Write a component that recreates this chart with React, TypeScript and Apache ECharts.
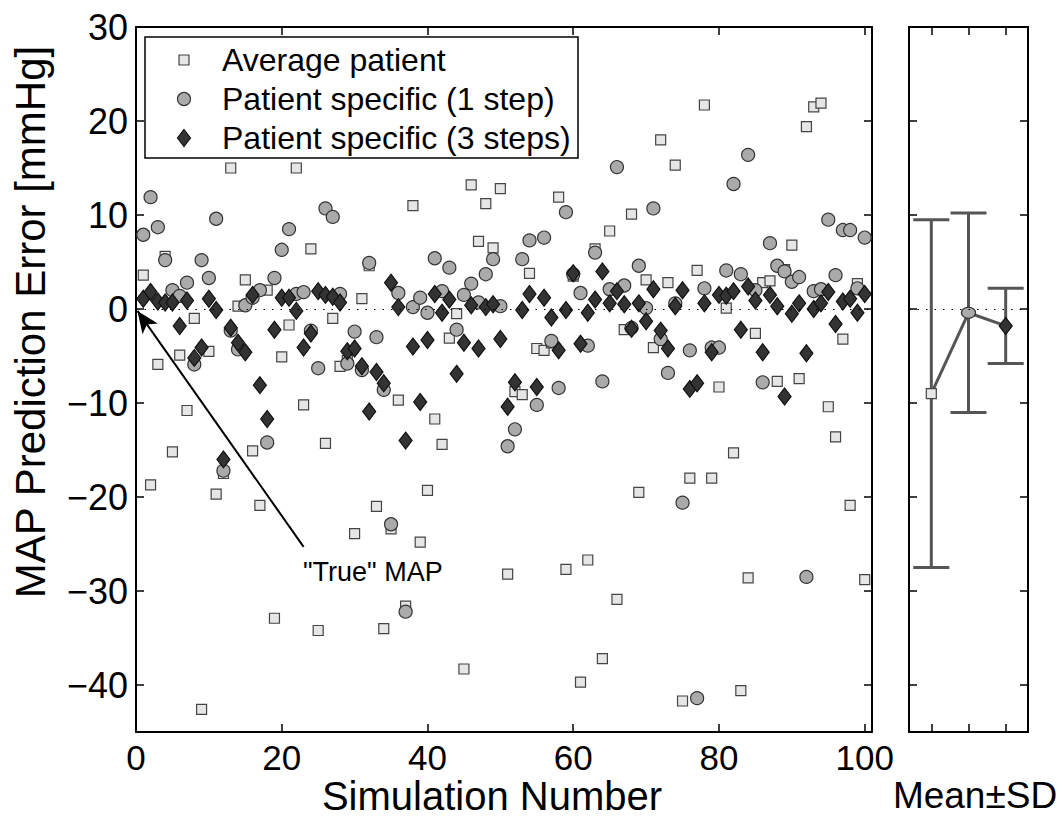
import React, { useEffect, useRef } from 'react';
import * as echarts from 'echarts';

const simulationNumbers = Array.from({ length: 100 }, (_, i) => i + 1);

const averagePatient = [
  3.6, -18.7, -5.9, 5.6, -15.2, -4.9, -10.8, -1.0, -42.6, -4.5,
  -19.7, -17.5, 15.0, 0.3, 3.1, -15.1, -20.9, 2.0, -32.9, -5.1,
  -1.7, 15.0, -10.2, 6.4, -34.2, -14.3, -1.0, -6.1, -5.5, -23.9,
  1.1, 4.6, -21.0, -34.0, -23.4, -9.7, -31.6, 11.0, -24.8, -19.3,
  -11.7, -14.4, -3.1, -0.5, -38.3, 13.2, 7.2, 11.2, 6.5, 12.8,
  -28.2, -8.8, -9.1, 3.8, -4.2, -4.4, -3.6, 11.9, -27.7, 3.5,
  -39.7, -26.7, 6.4, -37.2, 8.3, -30.9, -2.2, 10.1, -19.5, 3.1,
  -4.1, 18.0, 2.8, 15.3, -41.7, -18.0, 4.1, 21.7, -18.0, -8.3,
  0.1, -15.3, -40.6, -28.6, -2.6, 2.8, 3.0, -7.7, 4.2, 6.8,
  -7.4, 19.4, 21.5, 21.9, -10.4, -13.6, -3.2, -20.9, 2.7, -28.8,
];

const patientSpecific1 = [
  7.9, 11.9, 8.7, 5.2, 2.0, 1.4, 2.8, -5.9, 5.2, 3.3,
  9.6, -17.2, -2.3, -4.3, 0.4, 1.2, 2.0, -14.2, 3.3, 6.3,
  8.5, 1.6, 1.8, -2.3, -6.3, 10.7, 9.8, 1.6, -5.8, -2.4,
  -6.5, 4.9, -3.0, -8.6, -22.9, 1.7, -32.2, 0.2, 1.2, -0.4,
  5.4, 1.9, 4.4, -2.2, 1.5, 2.7, 0.7, 3.7, 5.3, 0.3,
  -14.6, -12.8, 5.3, 7.3, -10.2, 7.6, -3.4, -8.4, 10.3, 3.7,
  1.7, -3.9, 6.0, -7.7, 2.1, 15.1, 2.5, -2.0, 4.6, 0.1,
  10.7, -3.2, -6.8, 0.6, -20.6, -4.4, -41.4, 2.2, -4.1, -4.1,
  4.1, 13.3, 3.7, 16.4, 2.0, -7.8, 7.0, 4.6, 4.0, 2.9,
  3.4, -28.5, 1.9, 2.1, 9.5, 3.6, 8.4, 8.4, 2.2, 7.6,
];

const patientSpecific3 = [
  1.1, 1.8, 0.8, 0.7, 0.7, -1.8, 0.9, -5.2, -4.1, 1.1,
  -0.1, -16.0, -2.0, -3.6, -4.6, 1.5, -8.1, -11.7, -2.2, 1.2,
  1.2, -0.2, -4.1, -2.6, 1.9, 1.5, 1.3, 0.7, -4.5, -4.2,
  -6.1, -10.9, -6.7, -7.9, 2.8, 0.2, -14.0, -4.0, -9.9, -3.3,
  1.6, -0.4, 1.0, -6.9, -3.6, 0.4, -4.2, 0.2, 0.5, -3.2,
  -10.4, -7.8, -0.1, 1.6, -8.3, 1.2, -0.9, -4.4, -0.1, 3.8,
  -3.7, -0.4, 1.0, 4.0, 0.6, 1.9, 0.5, -2.1, 0.6, -1.3,
  2.1, -2.3, -4.2, 0.3, 2.0, -8.5, -7.9, 0.6, -4.6, 1.5,
  1.4, 1.9, -2.2, 2.4, 0.9, -4.6, 1.5, 0.3, -9.3, -0.5,
  0.6, -4.7, 0.0, 0.6, 1.8, -1.6, 0.8, 1.1, -0.4, 1.6,
];

const seriesNames = ['Average patient', 'Patient specific (1 step)', 'Patient specific (3 steps)'];
const summaryPositions = [1, 2, 3];
const summaryMeans = [-9.0, -0.4, -1.8];
const summarySD = [18.5, 10.6, 4.0];

const xTicks = [0, 20, 40, 60, 80, 100];
const yTicks = [-40, -30, -20, -10, 0, 10, 20, 30];
const summaryTicks = [1, 2, 3];

const FONT = "'Liberation Sans', Arial, Helvetica, sans-serif";

const fills = ['#e6e6e6', '#aaaaaa', '#333333'];
const borders = ['#444444', '#333333', '#111111'];
const symbols = ['rect', 'circle', 'diamond'];
const sizes: any[] = [10, 13, [13, 17]];

function legendMarker(k: number, cx: number, cy: number): any {
  const style = { fill: fills[k], stroke: borders[k], lineWidth: 1.2 };
  if (k === 0) return { type: 'rect', shape: { x: cx - 5, y: cy - 5, width: 10, height: 10 }, style };
  if (k === 1) return { type: 'circle', shape: { cx, cy, r: 6.5 }, style };
  return {
    type: 'polygon',
    shape: { points: [[cx, cy - 8.5], [cx + 6.5, cy], [cx, cy + 8.5], [cx - 6.5, cy]] },
    style,
  };
}

export default function App() {
  const ref = useRef<HTMLDivElement>(null);
  useEffect(() => {
    if (!ref.current) return;
    const chart = echarts.init(ref.current, undefined, { renderer: 'svg' });

    const axisLine = { show: true, onZero: false, lineStyle: { color: '#000', width: 2 } };
    const tick = (vals: number[]) => ({
      show: true, inside: true, length: 8, customValues: vals,
      lineStyle: { color: '#000', width: 1.5 },
    });
    const fmt = (v: number) => (v < 0 ? '\u2212' + Math.abs(v) : String(v));

    const seriesData = [averagePatient, patientSpecific1, patientSpecific3];

    const scatterSeries: any[] = seriesData.map((vals, k) => ({
      name: seriesNames[k],
      type: 'scatter',
      xAxisIndex: 0,
      yAxisIndex: 0,
      symbol: symbols[k],
      symbolSize: sizes[k],
      itemStyle: { color: fills[k], borderColor: borders[k], borderWidth: 1.2, opacity: 1 },
      data: simulationNumbers.map((x, i) => [x, vals[i]]),
    }));

    scatterSeries[0].markLine = {
      silent: true,
      symbol: ['none', 'none'],
      label: { show: false },
      lineStyle: { color: '#000', type: [1.5, 7], width: 1 },
      data: [{ yAxis: 0 }],
    };
    scatterSeries[2].markLine = {
      silent: true,
      label: { show: false },
      symbolSize: [14, 22],
      lineStyle: { color: '#000', type: 'solid', width: 2 },
      data: [[
        { coord: [0.2, -0.2], symbol: 'arrow' },
        { coord: [23, -25.3], symbol: 'none' },
      ]],
    };

    const legendTop = 37;
    const legendRowY = [60, 99, 138];
    const legendGraphics: any[] = [
      {
        type: 'rect', z: 100,
        shape: { x: 145, y: legendTop, width: 433, height: 121 },
        style: { fill: '#fff', stroke: '#000', lineWidth: 1.5 },
      },
    ];
    seriesNames.forEach((n, k) => {
      legendGraphics.push({ ...legendMarker(k, 184, legendRowY[k]), z: 101 });
      legendGraphics.push({
        type: 'text', z: 101, x: 222, y: legendRowY[k],
        style: { text: n, fontSize: 32, fontFamily: FONT, fill: '#000', align: 'left', verticalAlign: 'middle' },
      });
    });

    const option: any = {
      animation: false,
      backgroundColor: '#fff',
      textStyle: { fontFamily: FONT },
      grid: [
        { left: 136, top: 27, width: 736, height: 705 },
        { left: 909, top: 27, width: 119, height: 705 },
      ],
      xAxis: [
        {
          gridIndex: 0, type: 'value', min: 0, max: 101, position: 'bottom',
          axisLine, axisTick: tick(xTicks), splitLine: { show: false },
          axisLabel: { customValues: xTicks, fontSize: 35, color: '#000', fontFamily: FONT, margin: 8 },
        },
        {
          gridIndex: 0, type: 'value', min: 0, max: 101, position: 'top',
          axisLine, axisTick: tick(xTicks), splitLine: { show: false },
          axisLabel: { show: false },
        },
        {
          gridIndex: 1, type: 'value', min: 0.4, max: 3.6, position: 'bottom',
          axisLine, axisTick: tick(summaryTicks), splitLine: { show: false },
          axisLabel: { show: false },
        },
        {
          gridIndex: 1, type: 'value', min: 0.4, max: 3.6, position: 'top',
          axisLine, axisTick: tick(summaryTicks), splitLine: { show: false },
          axisLabel: { show: false },
        },
      ],
      yAxis: [
        {
          gridIndex: 0, type: 'value', min: -45, max: 30, position: 'left',
          axisLine, axisTick: tick(yTicks), splitLine: { show: false },
          axisLabel: { customValues: yTicks, fontSize: 36, color: '#000', fontFamily: FONT, margin: 8, formatter: fmt },
        },
        {
          gridIndex: 0, type: 'value', min: -45, max: 30, position: 'right',
          axisLine, axisTick: tick(yTicks), splitLine: { show: false },
          axisLabel: { show: false },
        },
        {
          gridIndex: 1, type: 'value', min: -45, max: 30, position: 'left',
          axisLine, axisTick: tick(yTicks), splitLine: { show: false },
          axisLabel: { show: false },
        },
        {
          gridIndex: 1, type: 'value', min: -45, max: 30, position: 'right',
          axisLine, axisTick: tick(yTicks), splitLine: { show: false },
          axisLabel: { show: false },
        },
      ],
      series: [
        ...scatterSeries,
        {
          name: 'sd',
          type: 'custom',
          xAxisIndex: 2,
          yAxisIndex: 2,
          data: summaryPositions.map((x, i) => [x, summaryMeans[i] - summarySD[i], summaryMeans[i] + summarySD[i]]),
          encode: { x: 0, y: [1, 2] },
          renderItem: (params: any, api: any) => {
            const x = api.value(0);
            const lo = api.coord([x, api.value(1)]);
            const hi = api.coord([x, api.value(2)]);
            const hw = 18;
            const style = { stroke: '#555', lineWidth: 3, fill: 'none' };
            return {
              type: 'group',
              children: [
                { type: 'line', shape: { x1: hi[0], y1: hi[1], x2: lo[0], y2: lo[1] }, style },
                { type: 'line', shape: { x1: hi[0] - hw, y1: hi[1], x2: hi[0] + hw, y2: hi[1] }, style },
                { type: 'line', shape: { x1: lo[0] - hw, y1: lo[1], x2: lo[0] + hw, y2: lo[1] }, style },
              ],
            };
          },
          z: 2,
        },
        {
          name: 'means',
          type: 'line',
          xAxisIndex: 2,
          yAxisIndex: 2,
          lineStyle: { color: '#555', width: 3 },
          z: 3,
          data: summaryPositions.map((x, i) => ({
            value: [x, summaryMeans[i]],
            symbol: symbols[i],
            symbolSize: i === 1 ? [14, 11] : sizes[i],
            itemStyle: { color: fills[i], borderColor: borders[i], borderWidth: 1.2 },
          })),
          markLine: {
            silent: true,
            symbol: ['none', 'none'],
            label: { show: false },
            lineStyle: { color: '#000', type: [1.5, 7], width: 1 },
            data: [{ yAxis: 0 }],
          },
        },
      ],
      graphic: [
        ...legendGraphics,
        {
          type: 'text', x: 30, y: 322, rotation: Math.PI / 2,
          style: { text: 'MAP Prediction Error [mmHg]', fontSize: 42, fontFamily: FONT, fill: '#000', align: 'center', verticalAlign: 'middle' },
        },
        {
          type: 'text', x: 492, y: 796,
          style: { text: 'Simulation Number', fontSize: 40, fontFamily: FONT, fill: '#000', align: 'center', verticalAlign: 'middle' },
        },
        {
          type: 'text', x: 975, y: 795,
          style: { text: 'Mean\u00b1SD', fontSize: 37, fontFamily: FONT, fill: '#000', align: 'center', verticalAlign: 'middle' },
        },
        {
          type: 'text', x: 303, y: 572,
          style: { text: '"True" MAP', fontSize: 27, fontFamily: FONT, fill: '#000', align: 'left', verticalAlign: 'middle' },
        },
      ],
    };
    chart.setOption(option);
    return () => chart.dispose();
  }, []);
  return <div ref={ref} style={{ position: 'fixed', left: 0, top: 0, width: 1062, height: 818, background: '#fff' }} />;
}
